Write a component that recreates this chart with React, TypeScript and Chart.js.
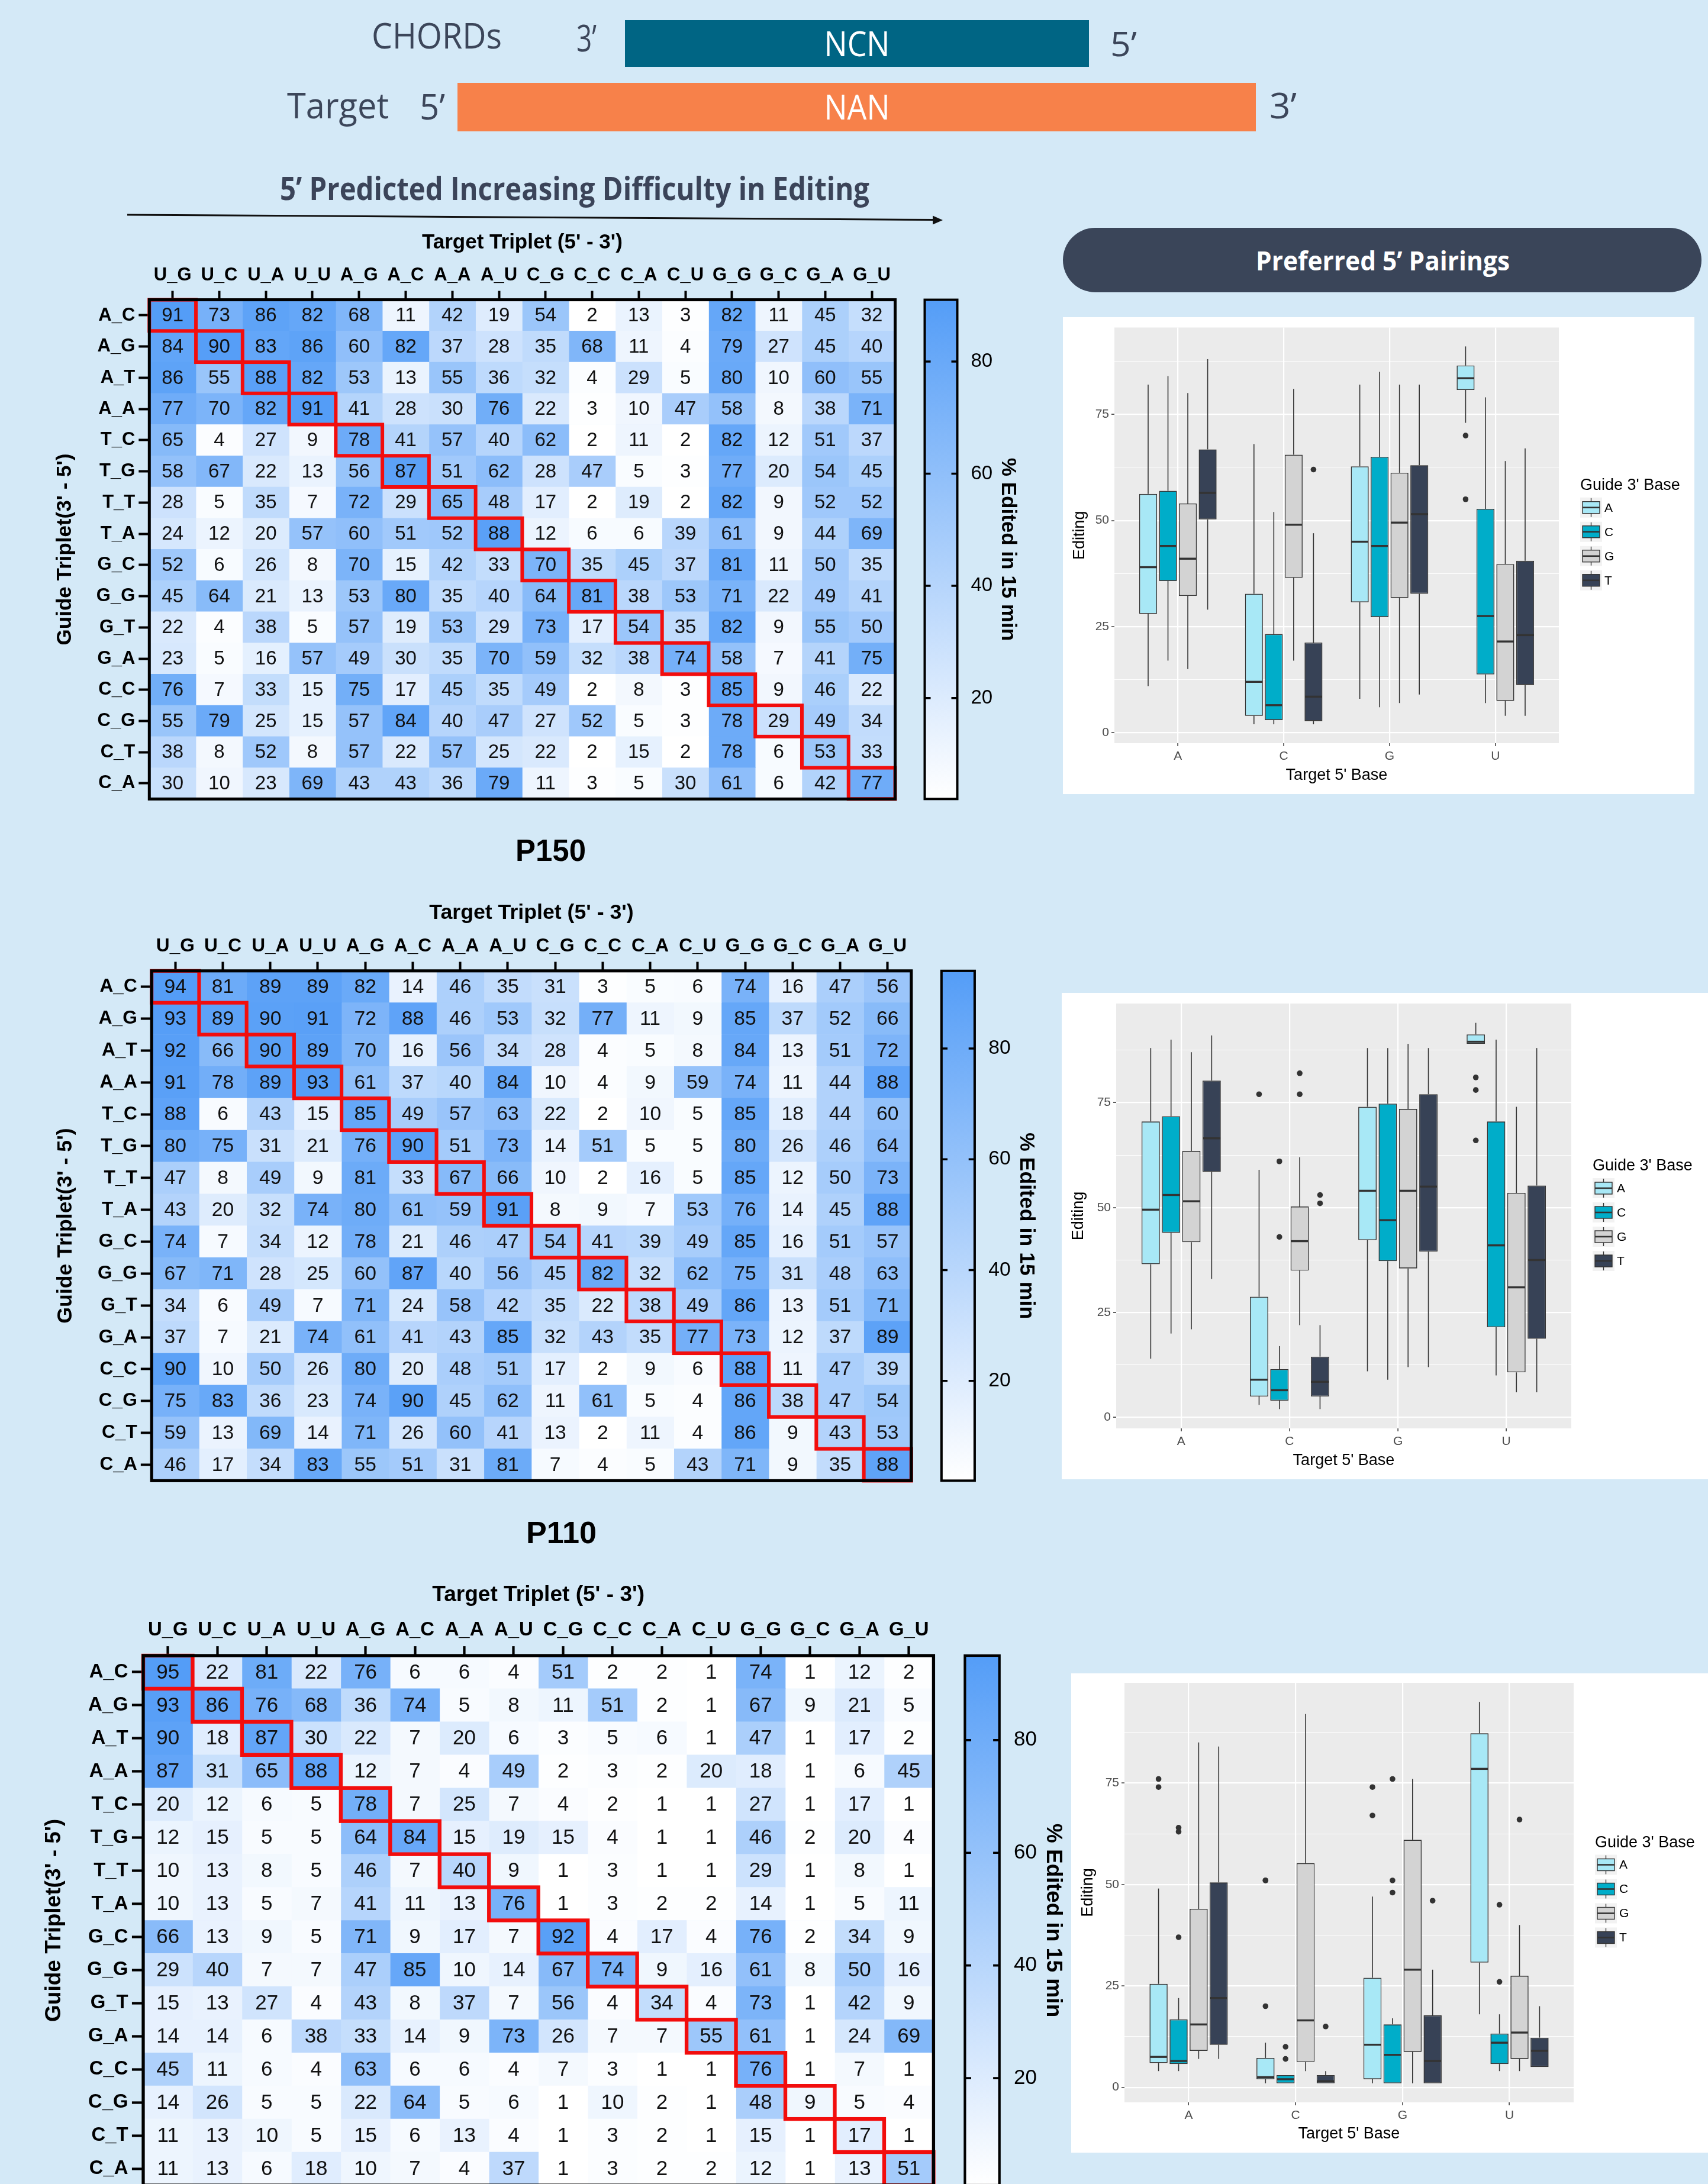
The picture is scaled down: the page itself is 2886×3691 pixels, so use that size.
import React, { useEffect, useRef } from 'react';
import { Chart, registerables } from 'chart.js';

Chart.register(...registerables);

const FONT = '"Liberation Sans", Arial, Helvetica, sans-serif';
const HEAD_FONT = '"Open Sans", "Noto Sans", sans-serif';
const PAGE_BG = '#d4e9f7';
const HEAT_HIGH = [84, 157, 247];
const HEAT_LOW = [255, 255, 255];

// ---------------- data ----------------
const targetTriplets = ['U_G', 'U_C', 'U_A', 'U_U', 'A_G', 'A_C', 'A_A', 'A_U', 'C_G', 'C_C', 'C_A', 'C_U', 'G_G', 'G_C', 'G_A', 'G_U'];
const guideTriplets = ['A_C', 'A_G', 'A_T', 'A_A', 'T_C', 'T_G', 'T_T', 'T_A', 'G_C', 'G_G', 'G_T', 'G_A', 'C_C', 'C_G', 'C_T', 'C_A'];
const colorbarTicks = [20, 40, 60, 80];
const targetBases = ['A', 'C', 'G', 'U'];
const guideBases = ['A', 'C', 'G', 'T'];
const guideBaseColors = ['#a8e8f6', '#00adc9', '#d3d3d3', '#374256'];

const editingTop: number[][] = [
  [91, 73, 86, 82, 68, 11, 42, 19, 54, 2, 13, 3, 82, 11, 45, 32],
  [84, 90, 83, 86, 60, 82, 37, 28, 35, 68, 11, 4, 79, 27, 45, 40],
  [86, 55, 88, 82, 53, 13, 55, 36, 32, 4, 29, 5, 80, 10, 60, 55],
  [77, 70, 82, 91, 41, 28, 30, 76, 22, 3, 10, 47, 58, 8, 38, 71],
  [65, 4, 27, 9, 78, 41, 57, 40, 62, 2, 11, 2, 82, 12, 51, 37],
  [58, 67, 22, 13, 56, 87, 51, 62, 28, 47, 5, 3, 77, 20, 54, 45],
  [28, 5, 35, 7, 72, 29, 65, 48, 17, 2, 19, 2, 82, 9, 52, 52],
  [24, 12, 20, 57, 60, 51, 52, 88, 12, 6, 6, 39, 61, 9, 44, 69],
  [52, 6, 26, 8, 70, 15, 42, 33, 70, 35, 45, 37, 81, 11, 50, 35],
  [45, 64, 21, 13, 53, 80, 35, 40, 64, 81, 38, 53, 71, 22, 49, 41],
  [22, 4, 38, 5, 57, 19, 53, 29, 73, 17, 54, 35, 82, 9, 55, 50],
  [23, 5, 16, 57, 49, 30, 35, 70, 59, 32, 38, 74, 58, 7, 41, 75],
  [76, 7, 33, 15, 75, 17, 45, 35, 49, 2, 8, 3, 85, 9, 46, 22],
  [55, 79, 25, 15, 57, 84, 40, 47, 27, 52, 5, 3, 78, 29, 49, 34],
  [38, 8, 52, 8, 57, 22, 57, 25, 22, 2, 15, 2, 78, 6, 53, 33],
  [30, 10, 23, 69, 43, 43, 36, 79, 11, 3, 5, 30, 61, 6, 42, 77],
];

const editingP150: number[][] = [
  [94, 81, 89, 89, 82, 14, 46, 35, 31, 3, 5, 6, 74, 16, 47, 56],
  [93, 89, 90, 91, 72, 88, 46, 53, 32, 77, 11, 9, 85, 37, 52, 66],
  [92, 66, 90, 89, 70, 16, 56, 34, 28, 4, 5, 8, 84, 13, 51, 72],
  [91, 78, 89, 93, 61, 37, 40, 84, 10, 4, 9, 59, 74, 11, 44, 88],
  [88, 6, 43, 15, 85, 49, 57, 63, 22, 2, 10, 5, 85, 18, 44, 60],
  [80, 75, 31, 21, 76, 90, 51, 73, 14, 51, 5, 5, 80, 26, 46, 64],
  [47, 8, 49, 9, 81, 33, 67, 66, 10, 2, 16, 5, 85, 12, 50, 73],
  [43, 20, 32, 74, 80, 61, 59, 91, 8, 9, 7, 53, 76, 14, 45, 88],
  [74, 7, 34, 12, 78, 21, 46, 47, 54, 41, 39, 49, 85, 16, 51, 57],
  [67, 71, 28, 25, 60, 87, 40, 56, 45, 82, 32, 62, 75, 31, 48, 63],
  [34, 6, 49, 7, 71, 24, 58, 42, 35, 22, 38, 49, 86, 13, 51, 71],
  [37, 7, 21, 74, 61, 41, 43, 85, 32, 43, 35, 77, 73, 12, 37, 89],
  [90, 10, 50, 26, 80, 20, 48, 51, 17, 2, 9, 6, 88, 11, 47, 39],
  [75, 83, 36, 23, 74, 90, 45, 62, 11, 61, 5, 4, 86, 38, 47, 54],
  [59, 13, 69, 14, 71, 26, 60, 41, 13, 2, 11, 4, 86, 9, 43, 53],
  [46, 17, 34, 83, 55, 51, 31, 81, 7, 4, 5, 43, 71, 9, 35, 88],
];

const editingP110: number[][] = [
  [95, 22, 81, 22, 76, 6, 6, 4, 51, 2, 2, 1, 74, 1, 12, 2],
  [93, 86, 76, 68, 36, 74, 5, 8, 11, 51, 2, 1, 67, 9, 21, 5],
  [90, 18, 87, 30, 22, 7, 20, 6, 3, 5, 6, 1, 47, 1, 17, 2],
  [87, 31, 65, 88, 12, 7, 4, 49, 2, 3, 2, 20, 18, 1, 6, 45],
  [20, 12, 6, 5, 78, 7, 25, 7, 4, 2, 1, 1, 27, 1, 17, 1],
  [12, 15, 5, 5, 64, 84, 15, 19, 15, 4, 1, 1, 46, 2, 20, 4],
  [10, 13, 8, 5, 46, 7, 40, 9, 1, 3, 1, 1, 29, 1, 8, 1],
  [10, 13, 5, 7, 41, 11, 13, 76, 1, 3, 2, 2, 14, 1, 5, 11],
  [66, 13, 9, 5, 71, 9, 17, 7, 92, 4, 17, 4, 76, 2, 34, 9],
  [29, 40, 7, 7, 47, 85, 10, 14, 67, 74, 9, 16, 61, 8, 50, 16],
  [15, 13, 27, 4, 43, 8, 37, 7, 56, 4, 34, 4, 73, 1, 42, 9],
  [14, 14, 6, 38, 33, 14, 9, 73, 26, 7, 7, 55, 61, 1, 24, 69],
  [45, 11, 6, 4, 63, 6, 6, 4, 7, 3, 1, 1, 76, 1, 7, 1],
  [14, 26, 5, 5, 22, 64, 5, 6, 1, 10, 2, 1, 48, 9, 5, 4],
  [11, 13, 10, 5, 15, 6, 13, 4, 1, 3, 2, 1, 15, 1, 17, 1],
  [11, 13, 6, 18, 10, 7, 4, 37, 1, 3, 2, 2, 12, 1, 13, 51],
];

// ---------------- layout ----------------
const heatGeoms = [
  { gx0: 252.3, gy0: 506.6, gx1: 1512.5, gy1: 1350.3, s: 1 },
  { gx0: 256.2, gy0: 1640.8, gx1: 1539.8, gy1: 2502.4, s: 1.02 },
  { gx0: 242, gy0: 2798, gx1: 1577.4, gy1: 3693, s: 1.06 },
];

const boxGeoms = [
  { px: 1796, py: 536, pw: 1067, ph: 806, ax0: 1883, ay0: 553.5, ax1: 2634, ay1: 1256 },
  { px: 1794, py: 1678, pw: 1092, ph: 822, ax0: 1886, ay0: 1696, ax1: 2655, ay1: 2414 },
  { px: 1810, py: 2828, pw: 1076, ph: 810, ax0: 1900, ay0: 2844, ax1: 2659, ay1: 3553 },
];

function boxStats(vals: number[]) {
  const v = [...vals].sort((a, b) => a - b);
  const q = (p: number) => {
    const h = (v.length - 1) * p;
    const lo = Math.floor(h);
    const hi = Math.ceil(h);
    return v[lo] + (h - lo) * (v[hi] - v[lo]);
  };
  const q1 = q(0.25);
  const med = q(0.5);
  const q3 = q(0.75);
  const iqr = q3 - q1;
  const loF = q1 - 1.5 * iqr;
  const hiF = q3 + 1.5 * iqr;
  const inside = v.filter((x) => x >= loF && x <= hiF);
  return { q1, med, q3, lo: inside[0], hi: inside[inside.length - 1], out: v.filter((x) => x < loF || x > hiF) };
}

function Heatmap({ values, g }: { values: number[][]; g: any }) {
  const ref = useRef<HTMLCanvasElement>(null);
  const s = g.s;
  const cx = Math.floor(g.gx0 - 200 * s);
  const cy = Math.floor(g.gy0 - 130 * s);
  const cw = Math.ceil(g.gx1 + 232 * s) - cx;
  const ch = Math.ceil(g.gy1 + 16) - cy;

  useEffect(() => {
    const canvas = ref.current;
    if (!canvas) return;
    const flat = values.flat();
    const vmin = Math.min(...flat);
    const vmax = Math.max(...flat);
    const colorOf = (v: number) => {
      const t = (v - vmin) / (vmax - vmin);
      const c = HEAT_LOW.map((lo, k) => Math.round(lo + (HEAT_HIGH[k] - lo) * t));
      return `rgb(${c[0]},${c[1]},${c[2]})`;
    };
    const leftW = g.gx0 - cx;
    const topH = g.gy0 - cy;
    const rightW = cx + cw - g.gx1;
    const bottomPad = cy + ch - g.gy1;

    const datasets = targetTriplets.map((name, j) => ({
      label: name,
      data: guideTriplets.map(() => 1),
      backgroundColor: values.map((row) => colorOf(row[j])),
      borderWidth: 0,
      barPercentage: 1,
      categoryPercentage: 1,
      xAxisID: 'x',
      yAxisID: 'y',
    }));

    const decor = {
      id: 'heatDecor',
      afterDatasetsDraw(chart: any) {
        const ctx = chart.ctx;
        const ca = chart.chartArea;
        ctx.save();
        ctx.font = `${33 * s}px ${FONT}`;
        ctx.fillStyle = '#111';
        ctx.textAlign = 'center';
        ctx.textBaseline = 'middle';
        chart.data.datasets.forEach((_ds: any, j: number) => {
          const meta = chart.getDatasetMeta(j);
          meta.data.forEach((el: any, i: number) => {
            ctx.fillText(String(values[i][j]), (el.x + el.base) / 2, el.y + 1);
          });
        });
        ctx.strokeStyle = '#f20d0d';
        ctx.lineWidth = 6 * s;
        for (let i = 0; i < guideTriplets.length; i++) {
          const el: any = chart.getDatasetMeta(i).data[i];
          const x0 = Math.min(el.x, el.base);
          const x1 = Math.max(el.x, el.base);
          ctx.strokeRect(x0, el.y - el.height / 2, x1 - x0, el.height);
        }
        ctx.strokeStyle = '#000';
        ctx.lineWidth = 5 * s;
        ctx.strokeRect(ca.left, ca.top, ca.right - ca.left, ca.bottom - ca.top);
        const sc = chart.scales.cb;
        const bx0 = ca.right + 50 * s;
        const bw = 55 * s;
        const yTop = sc.getPixelForValue(vmax);
        const yBot = sc.getPixelForValue(vmin);
        const grad = ctx.createLinearGradient(0, yBot, 0, yTop);
        grad.addColorStop(0, colorOf(vmin));
        grad.addColorStop(1, colorOf(vmax));
        ctx.fillStyle = grad;
        ctx.fillRect(bx0, yTop, bw, yBot - yTop);
        ctx.lineWidth = 4 * s;
        ctx.strokeStyle = '#000';
        ctx.strokeRect(bx0, yTop, bw, yBot - yTop);
        ctx.lineWidth = 3.5 * s;
        colorbarTicks.forEach((t) => {
          const y = sc.getPixelForValue(t);
          ctx.beginPath();
          ctx.moveTo(bx0, y);
          ctx.lineTo(bx0 + 10 * s, y);
          ctx.moveTo(bx0 + bw - 10 * s, y);
          ctx.lineTo(bx0 + bw, y);
          ctx.stroke();
        });
        ctx.restore();
      },
    };

    const chart = new Chart(canvas, {
      type: 'bar',
      data: { labels: guideTriplets, datasets },
      options: {
        indexAxis: 'y',
        animation: false,
        responsive: false,
        maintainAspectRatio: false,
        devicePixelRatio: 1,
        layout: { padding: { left: 0, top: 0, right: 0, bottom: bottomPad } },
        plugins: { legend: { display: false }, tooltip: { enabled: false } },
        scales: {
          x: {
            type: 'linear',
            position: 'top',
            stacked: true,
            offset: false,
            min: 0,
            max: targetTriplets.length,
            afterBuildTicks: (sc: any) => {
              sc.ticks = targetTriplets.map((_t, j) => ({ value: j + 0.5 }));
            },
            ticks: {
              autoSkip: false,
              maxRotation: 0,
              minRotation: 0,
              padding: 7.4 * s,
              color: '#000',
              font: { family: FONT, size: 31 * s, weight: 'bold' },
              callback: (v: any) => targetTriplets[Math.floor(Number(v))],
            },
            grid: { drawOnChartArea: false, offset: false, drawTicks: true, tickLength: 15 * s, tickWidth: 4 * s, tickColor: '#000' },
            border: { display: false },
            title: {
              display: true,
              text: "Target Triplet (5' - 3')",
              color: '#000',
              font: { family: FONT, size: 35 * s, weight: 'bold' },
              padding: { top: 13 * s, bottom: 0 },
            },
            afterFit: (sc: any) => {
              sc.height = topH;
              sc.paddingLeft = 0;
              sc.paddingRight = 0;
            },
          },
          y: {
            type: 'category',
            position: 'left',
            stacked: true,
            offset: true,
            ticks: {
              autoSkip: false,
              padding: 6 * s,
              color: '#000',
              font: { family: FONT, size: 31 * s, weight: 'bold' },
            },
            grid: { drawOnChartArea: false, offset: false, drawTicks: true, tickLength: 18 * s, tickWidth: 4 * s, tickColor: '#000' },
            border: { display: false },
            title: {
              display: true,
              text: "Guide Triplet(3' - 5')",
              color: '#000',
              font: { family: FONT, size: 35 * s, weight: 'bold' },
              padding: { top: 37 * s, bottom: 0 },
            },
            afterFit: (sc: any) => {
              sc.width = leftW;
              sc.paddingTop = 0;
              sc.paddingBottom = 0;
            },
          },
          cb: {
            type: 'linear',
            axis: 'y',
            position: 'right',
            offset: false,
            min: vmin,
            max: vmax,
            afterBuildTicks: (sc: any) => {
              sc.ticks = colorbarTicks.map((v) => ({ value: v }));
            },
            ticks: {
              padding: 128 * s,
              color: '#000',
              font: { family: FONT, size: 33 * s },
            },
            grid: { display: false, drawTicks: false, drawOnChartArea: false, offset: false },
            border: { display: false },
            title: {
              display: true,
              text: '% Edited in 15 min',
              color: '#000',
              font: { family: FONT, size: 35 * s, weight: 'bold' },
              padding: { top: 21 * s, bottom: 0 },
            },
            afterFit: (sc: any) => {
              sc.width = rightW;
              sc.paddingTop = 0;
              sc.paddingBottom = 0;
            },
          },
        },
      } as any,
      plugins: [decor],
    });
    return () => chart.destroy();
  }, [values]);

  return (
    <canvas
      ref={ref}
      width={cw}
      height={ch}
      style={{ position: 'absolute', left: cx, top: cy, width: cw, height: ch, display: 'block' }}
    />
  );
}

function BoxPanel({ values, g }: { values: number[][]; g: any }) {
  const ref = useRef<HTMLCanvasElement>(null);

  useEffect(() => {
    const canvas = ref.current;
    if (!canvas) return;
    const flat = values.flat();
    const dmin = Math.min(...flat);
    const dmax = Math.max(...flat);
    const pad = (dmax - dmin) * 0.05;
    const ymin = dmin - pad;
    const ymax = dmax + pad;

    const stats = guideBases.map((gb) =>
      targetBases.map((tb) => {
        const vals: number[] = [];
        guideTriplets.forEach((gt, i) => {
          if (gt[0] !== gb) return;
          targetTriplets.forEach((tt, j) => {
            if (tt[0] === tb) vals.push(values[i][j]);
          });
        });
        return boxStats(vals);
      })
    );

    const datasets = guideBases.map((gb, gi) => ({
      label: gb,
      data: stats[gi].map((st, ti) => ({ x: ti + 1, y: [st.q1, st.q3] })),
      backgroundColor: guideBaseColors[gi],
      borderColor: '#333333',
      borderWidth: 1.6,
      borderSkipped: false,
      categoryPercentage: 0.75,
      barPercentage: 0.9,
    }));

    const line = (ctx: any, x0: number, y0: number, x1: number, y1: number) => {
      ctx.beginPath();
      ctx.moveTo(x0, y0);
      ctx.lineTo(x1, y1);
      ctx.stroke();
    };

    const decor = {
      id: 'boxDecor',
      beforeDraw(chart: any) {
        const ctx = chart.ctx;
        const ca = chart.chartArea;
        ctx.save();
        ctx.fillStyle = '#ebebeb';
        ctx.fillRect(ca.left, ca.top, ca.right - ca.left, ca.bottom - ca.top);
        ctx.restore();
      },
      afterDatasetsDraw(chart: any) {
        const ctx = chart.ctx;
        const ys = chart.scales.y;
        ctx.save();
        stats.forEach((row, gi) => {
          const meta = chart.getDatasetMeta(gi);
          row.forEach((st, ti) => {
            const el: any = meta.data[ti];
            const x = el.x;
            const w = el.width;
            ctx.strokeStyle = '#333333';
            ctx.lineWidth = 1.6;
            line(ctx, x, ys.getPixelForValue(st.q3), x, ys.getPixelForValue(st.hi));
            line(ctx, x, ys.getPixelForValue(st.q1), x, ys.getPixelForValue(st.lo));
            ctx.lineWidth = 3.4;
            const ym = ys.getPixelForValue(st.med);
            line(ctx, x - w / 2 + 1, ym, x + w / 2 - 1, ym);
            ctx.fillStyle = '#333333';
            st.out.forEach((o) => {
              ctx.beginPath();
              ctx.arc(x, ys.getPixelForValue(o), 4.8, 0, Math.PI * 2);
              ctx.fill();
            });
          });
        });
        ctx.restore();
      },
      afterDraw(chart: any) {
        const ctx = chart.ctx;
        const ca = chart.chartArea;
        const L = ca.right + 36;
        const mid = (ca.top + ca.bottom) / 2;
        ctx.save();
        ctx.textAlign = 'left';
        ctx.textBaseline = 'middle';
        ctx.fillStyle = '#000';
        ctx.font = `27px ${FONT}`;
        ctx.fillText("Guide 3' Base", L, mid - 84);
        guideBases.forEach((gb, k) => {
          const kc = mid - 47 + 41 * k;
          ctx.fillStyle = '#f2f2f2';
          ctx.fillRect(L, kc - 17, 37, 34);
          ctx.strokeStyle = '#333333';
          ctx.lineWidth = 1.4;
          line(ctx, L + 18.5, kc - 16, L + 18.5, kc + 16);
          ctx.fillStyle = guideBaseColors[k];
          ctx.fillRect(L + 4, kc - 10, 29, 20);
          ctx.strokeRect(L + 4, kc - 10, 29, 20);
          ctx.lineWidth = 2.6;
          line(ctx, L + 4, kc, L + 33, kc);
          ctx.fillStyle = '#000';
          ctx.font = `21px ${FONT}`;
          ctx.fillText(gb, L + 41, kc + 1);
        });
        ctx.restore();
      },
    };

    const yMajor = (v: number) => Math.abs(v % 25) < 1e-9;

    const chart = new Chart(canvas, {
      type: 'bar',
      data: { datasets },
      options: {
        animation: false,
        responsive: false,
        maintainAspectRatio: false,
        devicePixelRatio: 1,
        layout: { padding: { left: 0, top: g.ay0 - g.py, right: g.px + g.pw - g.ax1, bottom: 0 } },
        plugins: { legend: { display: false }, tooltip: { enabled: false } },
        scales: {
          x: {
            type: 'linear',
            offset: false,
            min: 0.4,
            max: 4.6,
            afterBuildTicks: (sc: any) => {
              sc.ticks = targetBases.map((_b, i) => ({ value: i + 1 }));
            },
            ticks: {
              autoSkip: false,
              maxRotation: 0,
              padding: 4.4,
              color: '#4d4d4d',
              font: { family: FONT, size: 21 },
              callback: (v: any) => targetBases[Math.round(Number(v)) - 1],
            },
            grid: { color: '#ffffff', offset: false, lineWidth: 2.2, tickLength: 5, tickWidth: 1.5, tickColor: '#333333' },
            border: { display: false },
            title: {
              display: true,
              text: "Target 5' Base",
              color: '#000',
              font: { family: FONT, size: 27 },
              padding: { top: 0, bottom: 15 },
            },
            afterFit: (sc: any) => {
              sc.height = g.py + g.ph - g.ay1;
              sc.paddingLeft = 0;
              sc.paddingRight = 0;
            },
          },
          y: {
            type: 'linear',
            stacked: false,
            offset: false,
            min: ymin,
            max: ymax,
            afterBuildTicks: (sc: any) => {
              const t: any[] = [];
              for (let v = 0; v <= ymax; v += 12.5) if (v >= ymin) t.push({ value: v });
              sc.ticks = t;
            },
            ticks: {
              padding: 4,
              color: '#4d4d4d',
              font: { family: FONT, size: 21 },
              callback: (v: any) => (yMajor(Number(v)) ? String(v) : ''),
            },
            grid: {
              color: '#ffffff',
              lineWidth: (c: any) => (c.tick && yMajor(c.tick.value) ? 2.2 : 1.1),
              tickLength: 5,
              tickWidth: 1.5,
              tickColor: (c: any) => (c.tick && yMajor(c.tick.value) ? '#333333' : 'rgba(0,0,0,0)'),
            },
            border: { display: false },
            title: {
              display: true,
              text: 'Editing',
              color: '#000',
              font: { family: FONT, size: 27 },
              padding: { top: 12, bottom: 0 },
            },
            afterFit: (sc: any) => {
              sc.width = g.ax0 - g.px;
              sc.paddingTop = 0;
              sc.paddingBottom = 0;
            },
          },
        },
      } as any,
      plugins: [decor],
    });
    return () => chart.destroy();
  }, [values]);

  return (
    <canvas
      ref={ref}
      width={g.pw}
      height={g.ph}
      style={{ position: 'absolute', left: g.px, top: g.py, width: g.pw, height: g.ph, display: 'block', background: '#ffffff' }}
    />
  );
}

function Decorations() {
  const headColor = '#3c465a';
  return (
    <svg width={2886} height={3691} style={{ position: 'absolute', left: 0, top: 0 }}>
      <text x={628} y={82} fontFamily={HEAD_FONT} fontSize={60} fill={headColor} textLength={220} lengthAdjust="spacingAndGlyphs">CHORDs</text>
      <text x={974} y={87} fontFamily={HEAD_FONT} fontSize={62} fill={headColor} textLength={34} lengthAdjust="spacingAndGlyphs">3’</text>
      <rect x={1056} y={34} width={784} height={79} fill="#006584" />
      <text x={1448} y={95} textAnchor="middle" fontFamily={HEAD_FONT} fontSize={58} fill="#ffffff" textLength={111} lengthAdjust="spacingAndGlyphs">NCN</text>
      <text x={1876} y={95} fontFamily={HEAD_FONT} fontSize={56} fill={headColor} textLength={45} lengthAdjust="spacingAndGlyphs">5’</text>

      <text x={485} y={200} fontFamily={HEAD_FONT} fontSize={60} fill={headColor} textLength={172} lengthAdjust="spacingAndGlyphs">Target</text>
      <text x={709} y={202} fontFamily={HEAD_FONT} fontSize={60} fill={headColor} textLength={43} lengthAdjust="spacingAndGlyphs">5’</text>
      <rect x={773} y={140} width={1349} height={82} fill="#f7814a" />
      <text x={1448} y={202} textAnchor="middle" fontFamily={HEAD_FONT} fontSize={58} fill="#ffffff" textLength={111} lengthAdjust="spacingAndGlyphs">NAN</text>
      <text x={2145} y={200} fontFamily={HEAD_FONT} fontSize={60} fill={headColor} textLength={46} lengthAdjust="spacingAndGlyphs">3’</text>

      <text x={473} y={338} fontFamily={HEAD_FONT} fontWeight="bold" fontSize={53} fill="#3b4459" textLength={996} lengthAdjust="spacingAndGlyphs">5’ Predicted Increasing Difficulty in Editing</text>
      <line x1={215} y1={363} x2={1580} y2={371.5} stroke="#111111" strokeWidth={3} />
      <polygon points="1593,372 1576,364.5 1576,379.5" fill="#111111" />

      <rect x={1796} y={385} width={1079} height={109} rx={54.5} ry={54.5} fill="#3a4559" />
      <text x={2336.5} y={457} textAnchor="middle" fontFamily={HEAD_FONT} fontWeight="bold" fontSize={44} fill="#ffffff" textLength={429} lengthAdjust="spacingAndGlyphs">Preferred 5’ Pairings</text>

      <text x={930.5} y={1455} textAnchor="middle" fontFamily={FONT} fontWeight="bold" fontSize={52} fill="#000000" textLength={119} lengthAdjust="spacingAndGlyphs">P150</text>
      <text x={948.5} y={2608} textAnchor="middle" fontFamily={FONT} fontWeight="bold" fontSize={52} fill="#000000" textLength={119} lengthAdjust="spacingAndGlyphs">P110</text>
    </svg>
  );
}

export default function App() {
  useEffect(() => {
    document.body.style.margin = '0';
    document.body.style.overflow = 'hidden';
  }, []);
  const heatData = [editingTop, editingP150, editingP110];
  return (
    <div style={{ position: 'absolute', left: 0, top: 0, width: 2886, height: 3691, overflow: 'hidden', background: PAGE_BG }}>
      <Decorations />
      {heatData.map((vals, k) => (
        <Heatmap key={`h${k}`} values={vals} g={heatGeoms[k]} />
      ))}
      {heatData.map((vals, k) => (
        <BoxPanel key={`b${k}`} values={vals} g={boxGeoms[k]} />
      ))}
    </div>
  );
}
